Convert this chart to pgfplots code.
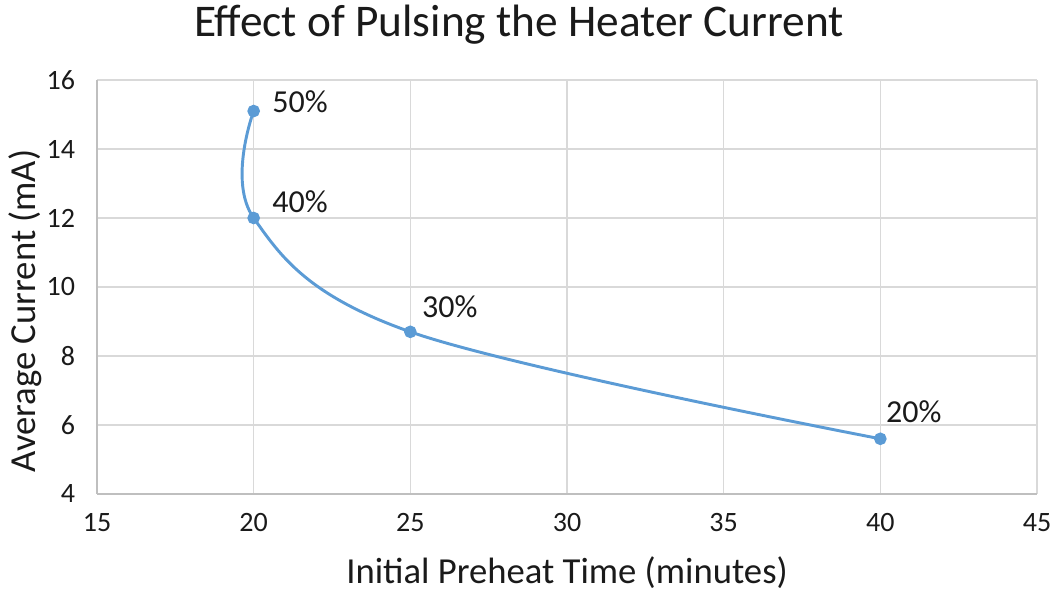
\documentclass[border=0pt]{standalone}
\usepackage{fontspec}
\setmainfont{Carlito}
\usepackage{pgfplots}
\pgfplotsset{compat=1.18}
\definecolor{serieblue}{HTML}{5B9BD5}
\definecolor{gridgray}{HTML}{D9D9D9}
\definecolor{axisgray}{HTML}{BFBFBF}
\definecolor{txt}{HTML}{1A1A1A}

\begin{document}
\begin{tikzpicture}
  % page: 1050 x 595 px at 0.75pt per px, axis origin at px (97,494)
  \useasboundingbox (-72.75pt,-75.75pt) rectangle (714.75pt,370.5pt);
  \begin{axis}[at={(0,0)}, anchor=south west, scale only axis,
    width=705pt, height=310.5pt,
    xmin=15, xmax=45, ymin=4, ymax=16,
    xtick={15,20,...,45}, ytick={4,6,...,16},
    grid=major, major grid style={gridgray, line width=1.1pt},
    axis line style={axisgray, line width=1.1pt},
    axis x line*=bottom, axis y line*=left,
    tick style={draw=none},
    /pgf/number format/assume math mode=true,
    ticklabel style={font=\fontsize{21}{21}\selectfont, text=txt},
    xticklabel style={yshift=-11pt},
    yticklabel style={xshift=-13pt},
    xlabel={Initial Preheat Time (minutes)},
    ylabel={Average Current (mA)},
    label style={font=\fontsize{27.5}{27.5}\selectfont, text=txt},
    xlabel style={at={(axis description cs:0.5,-0.215)}, anchor=base},
    ylabel style={at={(axis description cs:-0.0765,0.442)}, anchor=center},
    clip=false]
    \addplot[serieblue, line width=2.2pt, smooth, tension=0.6,
      mark=*, mark size=3.6pt, mark options={fill=serieblue, draw=serieblue}]
      coordinates {(20,15.1) (20,12) (25,8.7) (40,5.6)};
    \tikzset{lbl/.style={anchor=west, inner sep=0pt, font=\fontsize{24}{24}\selectfont, text=txt}}
    \node[lbl] at (axis cs:20.59,15.36) {50\%};
    \node[lbl] at (axis cs:20.59,12.46) {40\%};
    \node[lbl] at (axis cs:25.37,9.42) {30\%};
    \node[lbl] at (axis cs:40.18,6.38) {20\%};
    % chart title
    \node[anchor=base, inner sep=0pt, font=\fontsize{34}{34}\selectfont, text=txt]
      at (axis description cs:0.449,1.106) {Effect of Pulsing the Heater Current};
  \end{axis}
\end{tikzpicture}
\end{document}
